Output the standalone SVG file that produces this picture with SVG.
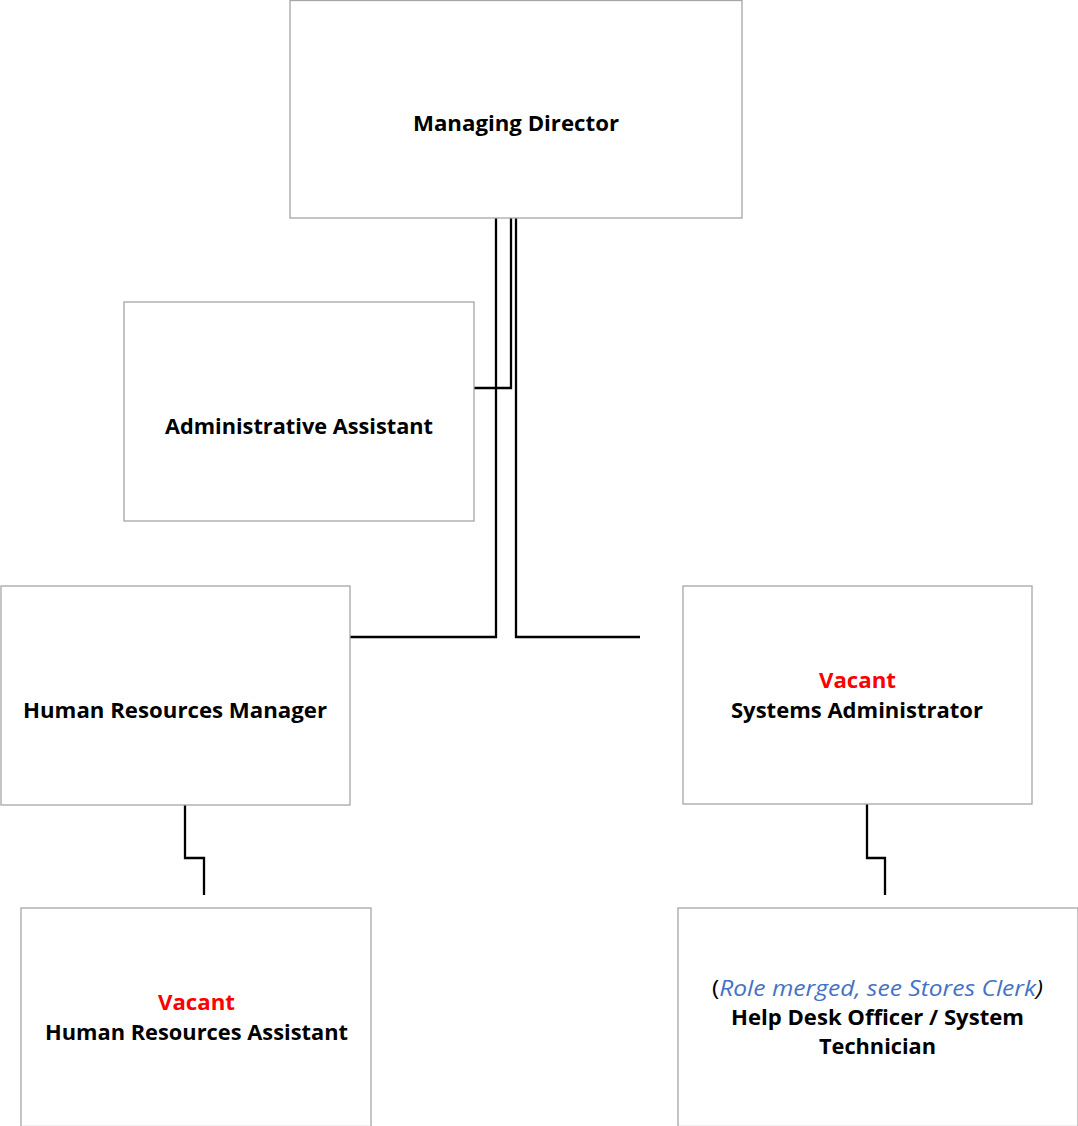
<svg xmlns="http://www.w3.org/2000/svg" width="1078" height="1126" viewBox="0 0 1078 1126">
  <style>
    .box { fill: #ffffff; stroke: #a6a6a6; stroke-width: 1.3; }
    .lbl { font-family: "Open Sans", "Liberation Sans", sans-serif; font-weight: bold; font-size: 22px; fill: #000000; text-anchor: middle; }
    .vac { fill: #ff0000; }
    .note { fill: #4472c4; font-style: italic; font-weight: normal; }
    .wire { fill: none; stroke: #000000; stroke-width: 2.3; }
  </style>
  <rect width="1078" height="1126" fill="#ffffff"/>

  <g id="connectors">
    <!-- Managing Director to HR Manager -->
    <path class="wire" d="M496 218 V637 H350"/>
    <!-- Managing Director to Administrative Assistant -->
    <path class="wire" d="M511 218 V388 H474"/>
    <!-- Managing Director to Systems Administrator -->
    <path class="wire" d="M516 218 V637 H640"/>
    <!-- HR Manager to HR Assistant -->
    <path class="wire" d="M185 805 V858 H204 V895"/>
    <!-- Systems Administrator to Help Desk -->
    <path class="wire" d="M867 804 V858 H885 V895"/>
  </g>

  <g id="managing-director">
    <rect class="box" x="290" y="0.5" width="452" height="217.5"/>
    <text class="lbl" x="516" y="131" textLength="206" lengthAdjust="spacingAndGlyphs">Managing Director</text>
  </g>

  <g id="administrative-assistant">
    <rect class="box" x="124" y="302" width="350" height="219"/>
    <text class="lbl" x="299" y="434" textLength="268" lengthAdjust="spacingAndGlyphs">Administrative Assistant</text>
  </g>

  <g id="hr-manager">
    <rect class="box" x="1" y="586" width="349" height="219"/>
    <text class="lbl" x="175" y="718" textLength="304" lengthAdjust="spacingAndGlyphs">Human Resources Manager</text>
  </g>

  <g id="systems-administrator">
    <rect class="box" x="683" y="586" width="349" height="218"/>
    <text class="lbl vac" x="857.5" y="688" textLength="77" lengthAdjust="spacingAndGlyphs">Vacant</text>
    <text class="lbl" x="857" y="718" textLength="252" lengthAdjust="spacingAndGlyphs">Systems Administrator</text>
  </g>

  <g id="hr-assistant">
    <rect class="box" x="21" y="908" width="350" height="218.5"/>
    <text class="lbl vac" x="196.5" y="1010" textLength="77" lengthAdjust="spacingAndGlyphs">Vacant</text>
    <text class="lbl" x="196.5" y="1040" textLength="303" lengthAdjust="spacingAndGlyphs">Human Resources Assistant</text>
  </g>

  <g id="help-desk">
    <rect class="box" x="678" y="908" width="400" height="218.5"/>
    <text class="lbl" x="877.5" y="996" textLength="331" lengthAdjust="spacingAndGlyphs"><tspan font-weight="normal">(</tspan><tspan class="note">Role merged, see Stores Clerk</tspan><tspan font-weight="normal" font-style="italic">)</tspan></text>
    <text class="lbl" x="877.5" y="1025" textLength="293" lengthAdjust="spacingAndGlyphs">Help Desk Officer / System</text>
    <text class="lbl" x="877.5" y="1054" textLength="117" lengthAdjust="spacingAndGlyphs">Technician</text>
  </g>
</svg>
